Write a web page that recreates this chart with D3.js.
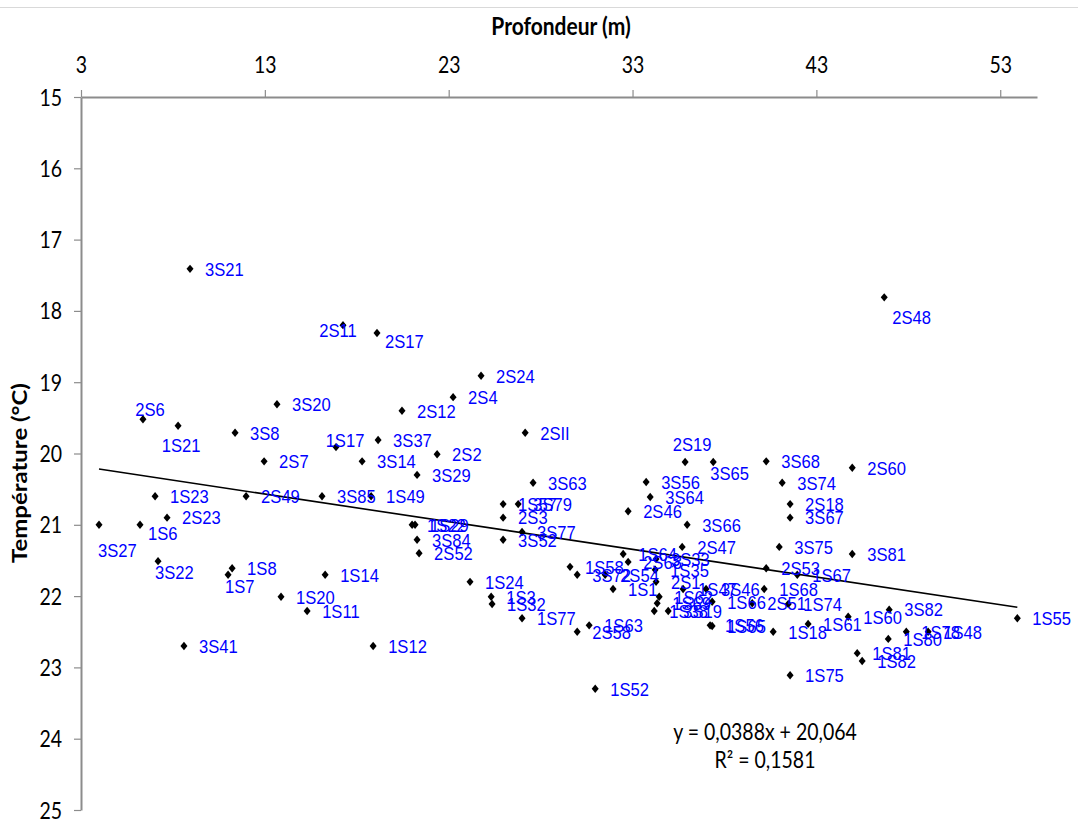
<!DOCTYPE html>
<html><head><meta charset="utf-8">
<script src="https://cdn.jsdelivr.net/npm/d3@7"></script>
<style>body{margin:0;background:#fff} svg{display:block}</style>
</head><body>
<svg id="chart" width="1078" height="820"></svg>
<script>
// ---- data ----
const labels = ["3S21","2S11","2S17","2S6","1S21","3S8","3S20","1S17","2S7","3S37","3S14","2S24","2S4","2S12","2SII","2S2","3S29","3S63","3S85","1S49","1S23","2S49","3S27","1S6","2S23","3S22","1S8","1S7","1S14","1S20","1S11","3S41","1S12","1S22","1S29","3S84","2S52","1S24","1S3","1S32","1S77","1S57","3S79","2S3","3S77","3S52","1S58","3S72","2S54","1S1","2S58","1S63","1S52","2S46","3S56","3S64","2S19","3S65","3S66","2S47","1S64","2S68","3S33","1S35","2S1","1S62","1S69","1S38","3S19","1S47","3S46","1S66","2S51","1S74","1S56","1S65","1S18","3S68","2S60","3S74","2S18","3S67","3S75","3S81","2S53","1S67","1S68","1S55","3S82","1S61","1S60","1S80","1S78","1S48","1S81","1S82","1S75","2S48"];
const depths = [8.93,17.25,19.10,6.37,8.28,11.38,13.66,16.87,12.96,19.16,18.29,24.76,23.24,20.46,27.16,22.37,21.28,27.59,16.11,18.78,7.03,11.98,3.98,6.21,7.68,7.19,11.22,11.0,16.28,13.88,15.30,8.60,18.89,21.01,21.17,21.28,21.39,24.16,25.31,25.36,26.99,25.96,26.78,25.96,26.99,25.96,29.60,29.99,31.51,31.94,29.99,30.64,30.97,32.76,33.74,33.96,35.86,37.39,35.97,35.70,32.49,32.76,34.28,34.23,34.28,34.45,34.34,34.18,34.94,35.75,37.00,37.33,39.51,41.47,37.22,37.33,40.65,40.27,44.95,41.14,41.57,41.57,40.98,44.95,40.27,41.96,40.16,53.93,46.96,42.55,44.73,46.91,47.89,49.08,45.22,45.49,41.57,46.69];
const temps = [17.41,18.20,18.31,19.52,19.61,19.71,19.31,19.91,20.11,19.81,20.11,18.91,19.21,19.40,19.71,20.01,20.30,20.41,20.60,20.60,20.60,20.60,21.00,21.00,20.90,21.51,21.61,21.70,21.70,22.01,22.21,22.70,22.70,21.00,21.00,21.21,21.40,21.80,22.01,22.11,22.31,20.71,20.71,20.90,21.10,21.21,21.59,21.70,21.70,21.90,22.50,22.41,23.30,20.81,20.40,20.61,20.12,20.12,21.00,21.31,21.41,21.52,21.48,21.63,21.80,22.01,22.10,22.21,22.21,21.90,21.90,22.08,22.10,22.11,22.41,22.42,22.50,20.11,20.20,20.41,20.71,20.90,21.31,21.41,21.61,21.70,21.90,22.31,22.19,22.39,22.29,22.60,22.50,22.50,22.80,22.91,23.11,17.81];
// label placement keyword for each point (r = right of the point)
const placements = ["r","c","br","a","b","r","r","c2","r","r","r","r","r","r","r","r","r","r","r","r","r","r","bs2","br","r","bs","r","bs","r","r","r","r","r","r","r","r","r","r","r","r","r","r","r","r","r","r","r","r","r","r","r","r","r","r","r","r","aa","bs","r","r","r","r","r","r","r","r","r","r","r","r","r","r","r","r","r","r","r","r","r","r","r","r","r","r","r","r","r","r","r","r","r","r","r","r","r","r","r","bb"];
const xTickValues = [3,13,23,33,43,53];
const yTickValues = [15,16,17,18,19,20,21,22,23,24,25];
const xDomain = [3,55];
const yDomain = [15,25];
const trendSlope = 0.0388, trendIntercept = 20.064;
const xTitle = "Profondeur (m)";
const yTitle = "Température (°C)";
const equationText = "y = 0,0388x + 20,064";
const r2Text = "R² = 0,1581";

// ---- drawing ----
const svg = d3.select("#chart");
const STRETCH = 1.14;
const axisColor = "#8c8c8c";
const labelColor = "#0000ff";
const tickFont = "Lato, 'Open Sans', sans-serif";

const x = d3.scaleLinear().domain(xDomain).range([81, 1037]);
const y = d3.scaleLinear().domain(yDomain).range([97, 810]);

// top border line
svg.append("line").attr("x1",0).attr("x2",1078).attr("y1",7.5).attr("y2",7.5)
  .attr("stroke","#d9d9d9").attr("stroke-width",1);

// axes
const gx = svg.append("g").attr("transform",`translate(0,${y(15)})`)
  .call(d3.axisTop(x).tickValues(xTickValues).tickSize(7).tickSizeOuter(0).tickPadding(14).tickFormat(d3.format("d")));
const gy = svg.append("g").attr("transform",`translate(${x(3)},0)`)
  .call(d3.axisLeft(y).tickValues(yTickValues).tickSize(7).tickSizeOuter(0).tickPadding(12).tickFormat(d3.format("d")));
[gx, gy].forEach(g => {
  g.select(".domain").attr("stroke",axisColor).attr("stroke-width",2);
  g.selectAll(".tick line").attr("stroke",axisColor).attr("stroke-width",1.2);
  g.selectAll(".tick text").attr("fill","#000").attr("font-family",tickFont).attr("font-size",19.5)
    .attr("transform",`scale(1,${STRETCH})`);
});
gx.selectAll(".tick text").attr("dy","0em");
gy.selectAll(".tick text").attr("dy","0.36em");

// axis titles
svg.append("text").attr("transform",`translate(${(x(3)+x(55))/2 + 2},35) scale(1,${STRETCH})`)
  .attr("text-anchor","middle").attr("font-family",tickFont).attr("font-weight","bold")
  .attr("font-size",21).text(xTitle);
svg.append("text").attr("transform",`translate(27,${473}) rotate(-90) scale(${STRETCH},1)`)
  .attr("text-anchor","middle").attr("font-family",tickFont).attr("font-weight","bold")
  .attr("font-size",21).text(yTitle);

// trend line
const dMin = d3.min(depths), dMax = d3.max(depths);
svg.append("path")
  .attr("d", d3.line().x(d=>x(d)).y(d=>y(trendSlope*d+trendIntercept))([dMin,dMax]))
  .attr("stroke","#000").attr("stroke-width",1.6).attr("fill","none");

// points
const diamond = { draw(ctx){ ctx.moveTo(0,-4.2); ctx.lineTo(3.5,0); ctx.lineTo(0,4.2); ctx.lineTo(-3.5,0); ctx.closePath(); } };
const pts = labels.map((l,i)=>({label:l, d:depths[i], t:temps[i], p:placements[i]}));
svg.append("g").selectAll("path").data(pts).join("path")
  .attr("transform", p=>`translate(${x(p.d)},${y(p.t)})`)
  .attr("d", d3.symbol(diamond)())
  .attr("fill","#000");

// labels
const offsets = {
  r:[15,0,"start"], c:[-5,5,"middle"], c2:[9,-7,"middle"], br:[8,8,"start"],
  a:[7,-10,"middle"], aa:[7,-18,"middle"], b:[3,19,"middle"], bs:[-3,11,"start"],
  bs2:[-1,25,"start"], bb:[8,20,"start"]
};
svg.append("g").selectAll("text").data(pts).join("text")
  .attr("transform", p=>{ const o=offsets[p.p]; return `translate(${x(p.d)+o[0]},${y(p.t)+o[1]}) scale(1,${STRETCH})`; })
  .attr("text-anchor", p=>offsets[p.p][2])
  .attr("dy","0.36em")
  .attr("font-family","'Liberation Sans', Arial, sans-serif").attr("font-size",16.6)
  .attr("fill",labelColor).text(p=>p.label);

// equation
svg.append("text").attr("transform",`translate(765,732) scale(1,${STRETCH})`).attr("text-anchor","middle")
  .attr("dy","0.36em").attr("font-family",tickFont).attr("font-size",19.5).text(equationText);
svg.append("text").attr("transform",`translate(765,760) scale(1,${STRETCH})`).attr("text-anchor","middle")
  .attr("dy","0.36em").attr("font-family",tickFont).attr("font-size",19.5).text(r2Text);
</script>
</body></html>
